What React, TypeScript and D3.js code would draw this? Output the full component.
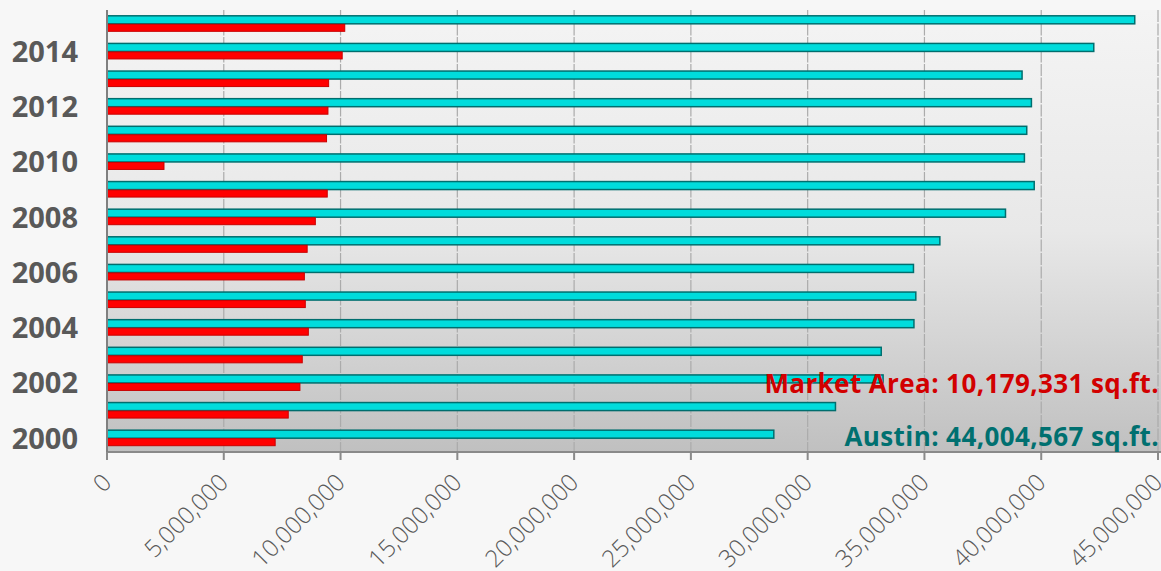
import React from "react";
import * as d3 from "d3";

// years, bottom to top
const years = [
  "2000", "2001", "2002", "2003", "2004", "2005", "2006", "2007",
  "2008", "2009", "2010", "2011", "2012", "2013", "2014", "2015",
];

// Austin total sq.ft.
const austin = [
  28550000, 31190000, 33230000, 33150000, 34550000, 34630000, 34530000, 35660000,
  38470000, 39700000, 39280000, 39380000, 39580000, 39180000, 42250000, 44004567,
];

// Market area total sq.ft.
const marketArea = [
  7200000, 7760000, 8260000, 8360000, 8620000, 8490000, 8450000, 8570000,
  8920000, 9430000, 2440000, 9400000, 9460000, 9490000, 10070000, 10179331,
];

const xTicks = [0, 5000000, 10000000, 15000000, 20000000, 25000000, 30000000, 35000000, 40000000, 45000000];
const yLabelYears = ["2000", "2002", "2004", "2006", "2008", "2010", "2012", "2014"];

const W = 1161;
const H = 571;
const margin = { left: 107, right: 3, top: 10, bottom: 119 };

export default function App() {
  const x = d3
    .scaleLinear()
    .domain([0, 45000000])
    .range([margin.left, W - margin.right]);

  const y = d3
    .scaleBand()
    .domain([...years].reverse())
    .range([margin.top, H - margin.bottom]);

  const bw = y.bandwidth();
  const sub = d3
    .scaleBand()
    .domain(["austin", "market"])
    .range([bw * 0.21, bw * 0.79]);

  const fmt = d3.format(",");
  const plotBottom = H - margin.bottom;

  return (
    <svg
      width={W}
      height={H}
      style={{ position: "absolute", left: 0, top: 0 }}
      fontFamily="'Open Sans', sans-serif"
    >
      <defs>
        <linearGradient id="plotBg" x1="0" y1="0" x2="0" y2="1">
          <stop offset="0" stopColor="#f4f4f4" />
          <stop offset="0.5" stopColor="#e8e8e8" />
          <stop offset="1" stopColor="#c0c0c0" />
        </linearGradient>
      </defs>
      <rect width={W} height={H} fill="#f7f7f7" />
      <rect
        x={margin.left}
        y={margin.top}
        width={W - margin.left}
        height={plotBottom - margin.top}
        fill="url(#plotBg)"
      />

      {/* gridlines */}
      {xTicks.slice(1).map((t, i) => (
        <line
          key={i}
          x1={x(t)}
          x2={x(t)}
          y1={margin.top}
          y2={plotBottom}
          stroke="#ababab"
          strokeWidth={1.2}
          strokeDasharray="12 1.5"
        />
      ))}

      {/* bars */}
      {years.map((yr, i) => (
        <g key={yr} transform={`translate(0,${y(yr)})`}>
          <rect
            x={x(0)}
            y={sub("austin")}
            width={x(austin[i]) - x(0)}
            height={sub.bandwidth()}
            fill="#00dcdc"
            stroke="#006e6e"
            strokeWidth={1.5}
          />
          <rect
            x={x(0)}
            y={sub("market")! + 0.5}
            width={x(marketArea[i]) - x(0)}
            height={sub.bandwidth() - 1}
            fill="#ff0000"
            stroke="#c80000"
            strokeWidth={1}
          />
        </g>
      ))}

      {/* axes */}
      <line x1={margin.left} x2={W} y1={plotBottom} y2={plotBottom} stroke="#8a8a8a" strokeWidth={2} />
      <line x1={margin.left} x2={margin.left} y1={margin.top} y2={plotBottom + 8} stroke="#808080" strokeWidth={2} />
      {xTicks.map((t, i) => (
        <g key={i} transform={`translate(${x(t)},${plotBottom})`}>
          <line y2={8} stroke="#8a8a8a" strokeWidth={2} />
          <text
            transform="translate(0,26) rotate(-45)"
            textAnchor="end"
            dy="0.35em"
            fontSize={24}
            fontWeight={300}
            fill="#595959"
          >
            {fmt(t)}
          </text>
        </g>
      ))}

      {yLabelYears.map(yr => (
        <text
          key={yr}
          x={78}
          y={y(yr)! + bw / 2}
          dy="0.36em"
          textAnchor="end"
          fontSize={29}
          fontWeight="bold"
          fill="#595959"
        >
          {yr}
        </text>
      ))}

      {/* annotations */}
      <text x={1159} y={393} textAnchor="end" fontSize={26} letterSpacing={0.4} fontWeight="bold" fill="#d20000">
        Market Area: {fmt(marketArea[marketArea.length - 1])} sq.ft.
      </text>
      <text x={1159} y={446} textAnchor="end" fontSize={26} letterSpacing={0.4} fontWeight="bold" fill="#007070">
        Austin: {fmt(austin[austin.length - 1])} sq.ft.
      </text>
    </svg>
  );
}
